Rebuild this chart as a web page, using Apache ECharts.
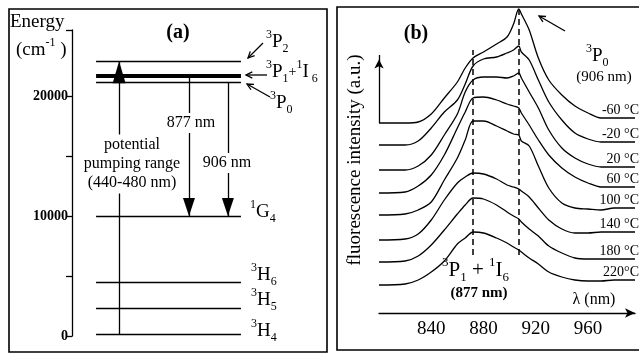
<!DOCTYPE html>
<html>
<head>
<meta charset="utf-8">
<script src="https://cdn.jsdelivr.net/npm/echarts@6/dist/echarts.min.js"></script>
<style>
  html, body { margin: 0; padding: 0; background: #fff; }
  #chart { width: 639px; height: 356px; }
</style>
</head>
<body>
<div id="chart"></div>
<script>
// (a) energy levels (cm-1)
const levelNames = ['3P2', '3P1+1I6', '3P0', '1G4', '3H6', '3H5', '3H4'];
const levelEnergy = [22900, 21650, 21150, 10000, 4450, 2350, 150];
const energyTicks = [0, 5000, 10000, 15000, 20000, 25500];
const energyLabels = [0, 10000, 20000];
const pumpTransition = ['3H4', '3P2'];
const emissionLines = [['3P1+1I6', '1G4'], ['3P0', '1G4']];

// (b) fluorescence spectra, stacked with offsets (a.u.)
const wavelength = [800, 820, 830, 840, 850, 860, 866, 872, 880, 890, 898, 903, 907, 909, 915, 922, 930, 940, 950, 960, 970, 980, 996];
const temps = ['-60 °C', '-20 °C', '20 °C', '60 °C', '100 °C', '140 °C', '180 °C', '220°C'];
const sM60 = [190, 190, 191, 199, 215, 231, 245, 255, 261, 269, 276, 289, 304, 299, 283, 255, 233, 218, 207, 200, 195, 195, 195];
const sM20 = [168, 168, 172, 185, 201, 213, 229, 247, 254, 256, 260, 263, 267, 261, 253, 233, 211, 193, 180, 174, 171, 171, 171];
const s20 = [143, 143, 147, 158, 178, 199, 221, 233, 236, 236, 235, 237, 240, 235, 221, 205, 183, 165, 155, 149, 146, 146, 146];
const s60 = [120, 121, 127, 138, 158, 185, 201, 215, 216, 213, 209, 207, 205, 200, 188, 173, 158, 145, 136, 130, 126, 126, 126];
const s100 = [98, 99, 103, 111, 133, 155, 173, 192, 192, 187, 182, 179, 178, 172, 167, 147, 125, 110, 105, 104, 103, 105, 105];
const s140 = [73, 74, 79, 93, 113, 130, 136, 140, 139, 134, 128, 126, 124, 122, 116, 105, 93, 84, 80, 80, 81, 81, 81];
const s180 = [51, 52, 57, 68, 83, 99, 108, 115, 114, 108, 101, 97, 94, 91, 84, 77, 67, 60, 55, 54, 54, 54, 54];
const s220 = [28, 29, 33, 41, 52, 69, 75, 81, 80, 75, 70, 66, 63, 61, 55, 49, 41, 36, 33, 32, 32, 33, 33];
const spectra = [sM60, sM20, s20, s60, s100, s140, s180, s220];
const peakLines = [872, 907];
const wlTicks = [840, 880, 920, 960];

// layout of the schematic
const LEVEL_X = [9.4, 66];
const PUMP_X = 18.4;
const EMIT_X = [45.7, 60.9];
const DASH_EXTENT = [[58, 263], [58, 303]];
const AXIS_ARROW_TOP = 258;

const SERIF = '"Liberation Serif", "DejaVu Serif", serif';
const BLACK = '#000';

const chart = echarts.init(document.getElementById('chart'));

const energyOf = (name) => levelEnergy[levelNames.indexOf(name)];

const levelLines = levelNames.map((name, i) => [
  { coord: [LEVEL_X[0], levelEnergy[i]], lineStyle: { width: name === '3P1+1I6' ? 4 : 1.3 } },
  { coord: [LEVEL_X[1], levelEnergy[i]] }
]);

// arrow end: tip sits on the end coordinate
const head = (coord, size) => ({ coord, symbol: 'triangle', symbolSize: size, symbolOffset: [0, '50%'] });

const arrowLine = (data) => ({
  silent: true,
  animation: false,
  symbol: ['none', 'triangle'],
  symbolSize: 10,
  label: { show: false },
  lineStyle: { color: BLACK, type: 'solid', width: 1.3 },
  data
});

const spectraSeries = spectra.map((s, i) => ({
  name: temps[i],
  type: 'line',
  xAxisIndex: 1,
  yAxisIndex: 1,
  data: wavelength.map((w, j) => [w, s[j]]),
  showSymbol: false,
  smooth: 0.3,
  silent: true,
  lineStyle: { color: BLACK, width: 1.3 },
  markLine: i === 0 ? {
    silent: true,
    animation: false,
    symbol: 'none',
    label: { show: false },
    lineStyle: { color: BLACK, type: [6, 4], width: 1.5 },
    data: peakLines.map((w, k) => [{ coord: [w, DASH_EXTENT[k][0]] }, { coord: [w, DASH_EXTENT[k][1]] }])
  } : undefined
}));

const option = {
  animation: false,
  backgroundColor: '#fff',
  grid: [
    { left: 72, top: 30, width: 256, height: 306, outerBoundsMode: 'none' },
    { left: 379, top: 8, right: 4, bottom: 43, outerBoundsMode: 'none' }
  ],
  xAxis: [
    { gridIndex: 0, type: 'value', min: 0, max: 100, show: false },
    {
      gridIndex: 1, type: 'value', min: 800, max: 996, interval: 40,
      axisLine: { show: true, onZero: false, symbol: ['none', 'arrow'], symbolSize: [7, 10], lineStyle: { color: BLACK, width: 1.3 } },
      axisTick: { show: false },
      splitLine: { show: false },
      axisLabel: { customValues: wlTicks, color: BLACK, fontFamily: SERIF, fontSize: 19, margin: 7 }
    }
  ],
  yAxis: [
    {
      gridIndex: 0, type: 'value', min: 0, max: 25500,
      axisLine: { show: true, lineStyle: { color: BLACK, width: 1.3 } },
      axisTick: { show: true, length: 6, customValues: energyTicks, lineStyle: { color: BLACK, width: 1.3 } },
      axisLabel: {
        customValues: energyLabels, formatter: (v) => String(v),
        color: BLACK, fontFamily: SERIF, fontSize: 14, fontWeight: 'bold', margin: 4
      },
      splitLine: { show: false }
    },
    { gridIndex: 1, type: 'value', min: 0, max: 305, show: false }
  ],
  series: [
    {
      type: 'line', xAxisIndex: 0, yAxisIndex: 0, data: [], silent: true,
      markLine: {
        silent: true, animation: false, symbol: 'none', label: { show: false },
        lineStyle: { color: BLACK, type: 'solid', width: 1.3 },
        data: levelLines
      }
    },
    {
      type: 'line', xAxisIndex: 0, yAxisIndex: 0, data: [], silent: true,
      markLine: arrowLine([[
        { coord: [PUMP_X, energyOf(pumpTransition[0])] },
        head([PUMP_X, energyOf(pumpTransition[1])], [13, 22])
      ]])
    },
    {
      type: 'line', xAxisIndex: 0, yAxisIndex: 0, data: [], silent: true,
      markLine: arrowLine(emissionLines.map((t, i) => [
        { coord: [EMIT_X[i], energyOf(t[0])] },
        head([EMIT_X[i], energyOf(t[1])], [12, 18])
      ]))
    },
    ...spectraSeries,
    {
      type: 'line', xAxisIndex: 1, yAxisIndex: 1, data: [], silent: true,
      markLine: {
        silent: true, animation: false,
        symbol: ['none', 'arrow'], symbolSize: 8,
        label: { show: false },
        lineStyle: { color: BLACK, type: 'solid', width: 1.3 },
        data: [[
          { coord: [wavelength[0], sM60[0]] },
          { coord: [wavelength[0], AXIS_ARROW_TOP], symbol: 'arrow', symbolSize: [7, 9], symbolOffset: [0, '50%'] }
        ]]
      }
    }
  ]
};

chart.setOption(option);

// annotations
const txt = (x, y, text, size, extra) => ({
  type: 'text', x, y, z: 100,
  style: Object.assign({
    text, fill: BLACK, fontSize: size, fontFamily: SERIF,
    align: 'left', verticalAlign: 'middle'
  }, extra || {})
});

const rich = (m) => {
  const s = Math.round(m * 0.63);
  return {
    m: { fontSize: m, fontFamily: SERIF, lineHeight: m + 7 },
    u: { fontSize: s, fontFamily: SERIF, verticalAlign: 'top' },
    d: { fontSize: s, fontFamily: SERIF, verticalAlign: 'bottom' },
    p: { fontSize: Math.round(m * 0.75), fontFamily: SERIF }
  };
};

const term = (x, y, text, size) => txt(x, y, text, size, { rich: rich(size) });

const pointer = (x1, y1, x2, y2) => {
  const a = Math.atan2(y2 - y1, x2 - x1), h = 7, w = 0.45;
  return [
    { type: 'line', z: 100, shape: { x1, y1, x2, y2 }, style: { stroke: BLACK, lineWidth: 1.3 } },
    {
      type: 'polyline', z: 100,
      shape: { points: [
        [x2 - h * Math.cos(a - w), y2 - h * Math.sin(a - w)],
        [x2, y2],
        [x2 - h * Math.cos(a + w), y2 - h * Math.sin(a + w)]
      ] },
      style: { stroke: BLACK, lineWidth: 1.3, fill: 'none' }
    }
  ];
};

const g = [
  { type: 'rect', z: 100, shape: { x: 9, y: 9, width: 318, height: 343 }, style: { fill: 'none', stroke: BLACK, lineWidth: 1.6 } },
  { type: 'rect', z: 100, shape: { x: 337, y: 7, width: 320, height: 343 }, style: { fill: 'none', stroke: BLACK, lineWidth: 1.6 } },

  // panel (a)
  txt(10, 22, 'Energy', 19),
  term(16, 50, '{m|(cm}{u|-1}{m| )}', 19),
  txt(178, 33, '(a)', 20, { align: 'center', fontWeight: 'bold' }),
  txt(132, 164, 'potential\npumping range\n(440-480 nm)', 16, { align: 'center', lineHeight: 19, backgroundColor: '#fff', padding: [1, 2] }),
  txt(191, 123, '877 nm', 16, { align: 'center', backgroundColor: '#fff', padding: [2, 1] }),
  txt(227, 163, '906 nm', 16, { align: 'center', backgroundColor: '#fff', padding: [2, 1] }),
  term(266, 42, '{u|3}{m|P}{d|2}', 19),
  term(266, 72, '{u|3}{m|P}{d|1}{p|+}{u|1}{m|I}{d| 6}', 19),
  term(270, 103, '{u|3}{m|P}{d|0}', 19),
  term(250, 212, '{u|1}{m|G}{d|4}', 19),
  term(251, 275, '{u|3}{m|H}{d|6}', 19),
  term(251, 300, '{u|3}{m|H}{d|5}', 19),
  term(251, 331, '{u|3}{m|H}{d|4}', 19),
  ...pointer(263, 43, 248, 58),
  ...pointer(267, 75, 246, 75),
  ...pointer(270, 97, 247, 84),

  // panel (b)
  txt(416, 34, '(b)', 20, { align: 'center', fontWeight: 'bold' }),
  Object.assign(txt(0, 0, 'fluorescence intensity (a.u.)', 19, { align: 'center' }), { x: 355, y: 160, rotation: Math.PI / 2 }),
  term(586, 56, '{u|3}{m|P}{d|0}', 19),
  txt(604, 77, '(906 nm)', 15, { align: 'center' }),
  term(442, 270, '{u|3}{m|P}{d|1}{m| + }{u|1}{m|I}{d|6}', 21),
  txt(479, 293, '(877 nm)', 15, { align: 'center', fontWeight: 'bold' }),
  txt(594, 300, 'λ (nm)', 16, { align: 'center' }),
  ...pointer(565, 31, 539, 16)
];

temps.forEach((t, i) => {
  const s = spectra[i];
  const p = chart.convertToPixel({ xAxisIndex: 1, yAxisIndex: 1 }, [wavelength[wavelength.length - 1], s[s.length - 1]]);
  g.push(txt(p[0] + 4, p[1] - 8, t, 14, { align: 'right' }));
});

chart.setOption({ graphic: g });
</script>
</body>
</html>
